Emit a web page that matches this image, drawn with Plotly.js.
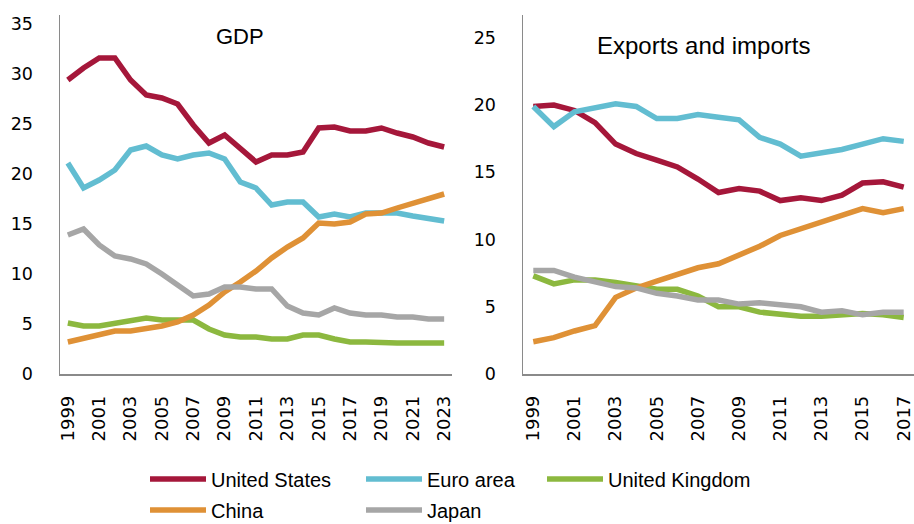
<!DOCTYPE html>
<html>
<head>
<meta charset="utf-8">
<script src="https://cdn.plot.ly/plotly-3.0.1.min.js"></script>
<style>html,body{margin:0;padding:0;background:#fff;}#chart{width:914px;height:524px;}</style>
</head>
<body>
<div id="chart"></div>
<script>
// ---- Data ----
const gdpYears = [1999,2000,2001,2002,2003,2004,2005,2006,2007,2008,2009,2010,2011,2012,2013,2014,2015,2016,2017,2018,2019,2020,2021,2022,2023];
const gdpUS    = [29.4,30.6,31.6,31.6,29.4,27.9,27.6,27.0,24.9,23.1,23.9,22.6,21.2,21.9,21.9,22.2,24.6,24.7,24.3,24.3,24.6,24.1,23.7,23.1,22.7];
const gdpEuro  = [21.1,18.6,19.4,20.4,22.4,22.8,21.9,21.5,21.9,22.1,21.5,19.2,18.6,16.9,17.2,17.2,15.7,16.0,15.7,16.1,16.1,16.1,15.8,15.6,15.3];
const gdpUK    = [5.1,4.8,4.8,5.1,5.3,5.6,5.4,5.4,5.4,4.5,3.9,3.7,3.7,3.5,3.5,3.9,3.9,3.5,3.2,3.2,3.1,3.1,3.1,3.1,3.1];
const gdpChina = [3.2,3.6,3.9,4.3,4.3,4.5,4.8,5.2,5.9,6.9,8.2,9.2,10.3,11.6,12.7,13.6,15.1,15.0,15.2,16.0,16.1,16.6,17.1,17.6,18.0];
const gdpJapan = [13.9,14.5,12.9,11.8,11.5,11.0,10.0,8.9,7.8,8.0,8.7,8.7,8.5,8.5,6.8,6.1,5.9,6.6,6.1,5.9,5.9,5.7,5.7,5.5,5.5];

const tradeYears = [1999,2000,2001,2002,2003,2004,2005,2006,2007,2008,2009,2010,2011,2012,2013,2014,2015,2016,2017];
const tradeUS    = [19.9,20.0,19.6,18.7,17.1,16.4,15.9,15.4,14.5,13.5,13.8,13.6,12.9,13.1,12.9,13.3,14.2,14.3,13.9];
const tradeEuro  = [19.9,18.4,19.5,19.8,20.1,19.9,19.0,19.0,19.3,19.1,18.9,17.6,17.1,16.2,16.4,16.7,17.1,17.5,17.3];
const tradeUK    = [7.3,6.7,7.0,7.0,6.8,6.5,6.3,6.3,5.8,5.0,5.0,4.6,4.4,4.3,4.3,4.4,4.5,4.4,4.2];
const tradeChina = [2.4,2.7,3.2,3.6,5.7,6.4,6.9,7.4,7.9,8.2,8.8,9.5,10.3,10.8,11.4,11.9,12.3,12.0,12.3];
const tradeJapan = [7.7,7.7,7.2,6.8,6.5,6.4,6.0,5.8,5.5,5.5,5.2,5.3,5.1,5.0,4.6,4.7,4.4,4.6,4.6];

const seriesNames = ["United States","Euro area","United Kingdom","China","Japan"];
const seriesColors = ["#A5173A","#62BDD1","#8CB83F","#DF9136","#A6A6A6"];
const titles = ["GDP","Exports and imports"];
const yTicksLeft = [0,5,10,15,20,25,30,35];
const yTicksRight = [0,5,10,15,20,25];

// ---- Build ----
const gdpSets = [gdpUS,gdpEuro,gdpUK,gdpChina,gdpJapan];
const tradeSets = [tradeUS,tradeEuro,tradeUK,tradeChina,tradeJapan];
const legendIds = ["legend","legend2","legend3","legend4","legend5"];
const traces = [];
gdpSets.forEach((ys,i)=>{
  traces.push({x:gdpYears,y:ys,name:seriesNames[i],type:"scatter",mode:"lines",
    line:{color:seriesColors[i],width:5.5},xaxis:"x",yaxis:"y",legend:legendIds[i],showlegend:true,hoverinfo:"skip"});
});
tradeSets.forEach((ys,i)=>{
  traces.push({x:tradeYears,y:ys,name:seriesNames[i],type:"scatter",mode:"lines",
    line:{color:seriesColors[i],width:5.5},xaxis:"x2",yaxis:"y2",showlegend:false,hoverinfo:"skip"});
});

const W=914,H=524;
const xTickFont={family:"DejaVu Sans",size:18,color:"#000"};
const yTickFont={family:"DejaVu Sans",size:17.5,color:"#000"};
const axisCommon={showgrid:false,zeroline:false,showline:true,linecolor:"#8a8a8a",linewidth:1.5,ticks:"",fixedrange:true,automargin:false};
const yDom=[1-374/H,1-15/H];
const legendFont={family:"Liberation Sans",size:20,color:"#000"};
const legPos=[[145,479],[361,479],[542,479],[145,510],[361,510]];

const layout={
  width:W,height:H,margin:{l:0,r:0,t:0,b:0,autoexpand:false},paper_bgcolor:"#fff",plot_bgcolor:"#fff",
  xaxis:Object.assign({},axisCommon,{domain:[60/W,452/W],range:[1998.5,2023.5],tickmode:"linear",tick0:1999,dtick:2,tickangle:-90,anchor:"y",ticklabelstandoff:13,tickfont:xTickFont}),
  yaxis:Object.assign({},axisCommon,{domain:yDom,range:[0,35.9],tickmode:"array",tickvals:yTicksLeft,anchor:"x",ticklabelstandoff:22,tickfont:yTickFont}),
  xaxis2:Object.assign({},axisCommon,{domain:[523/W,1],range:[1998.5,2017.5],tickmode:"linear",tick0:1999,dtick:2,tickangle:-90,anchor:"y2",ticklabelstandoff:13,tickfont:xTickFont}),
  yaxis2:Object.assign({},axisCommon,{domain:yDom,range:[0,26.7],tickmode:"array",tickvals:yTicksRight,anchor:"x2",ticklabelstandoff:22,tickfont:yTickFont}),
  annotations:[
    {text:titles[0],xref:"paper",yref:"paper",x:240/W,y:1-36/H,xanchor:"center",yanchor:"middle",showarrow:false,font:{family:"Liberation Sans",size:22,color:"#000"}},
    {text:titles[1],xref:"paper",yref:"paper",x:703/W,y:1-45/H,xanchor:"center",yanchor:"middle",showarrow:false,font:{family:"Liberation Sans",size:24,color:"#000"}}
  ]
};
legendIds.forEach((id,i)=>{
  layout[id]={orientation:"h",xref:"container",yref:"container",x:legPos[i][0]/W,xanchor:"left",y:1-legPos[i][1]/H,yanchor:"middle",font:legendFont,itemwidth:56,bgcolor:"rgba(0,0,0,0)"};
});
Plotly.newPlot("chart",traces,layout,{staticPlot:true,displayModeBar:false});
</script>
</body>
</html>
